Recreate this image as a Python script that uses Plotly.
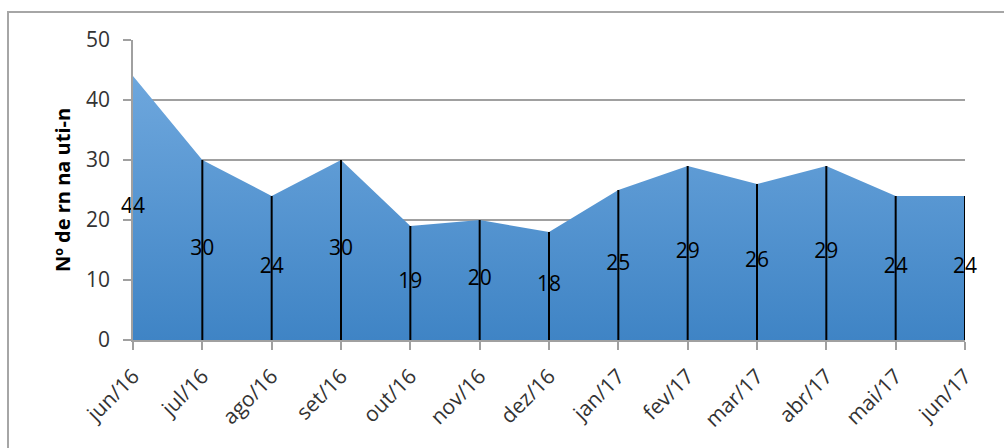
import plotly.graph_objects as go

months = ["jun/16", "jul/16", "ago/16", "set/16", "out/16", "nov/16", "dez/16",
          "jan/17", "fev/17", "mar/17", "abr/17", "mai/17", "jun/17"]
values = [44, 30, 24, 30, 19, 20, 18, 25, 29, 26, 29, 24, 24]
y_title = "Nº de rn na uti-n"
y_ticks = [0, 10, 20, 30, 40, 50]

FONT = "'Open Sans', Lato, sans-serif"

fig = go.Figure()

# area with vertical gradient
fig.add_trace(go.Scatter(
    x=months, y=values, mode="lines", line=dict(width=0, color="#5b9bd5"),
    fill="tozeroy",
    fillgradient=dict(type="vertical",
                      colorscale=[[0, "#3f84c5"], [1, "#6ea7dd"]]),
    hoverinfo="skip", showlegend=False,
))

# drop lines from each point (except the first) down to zero
dx, dy = [], []
for m, v in zip(months[1:], values[1:]):
    dx += [m, m, None]
    dy += [0, v, None]
fig.add_trace(go.Scatter(
    x=dx, y=dy, mode="lines", line=dict(color="black", width=2),
    hoverinfo="skip", showlegend=False,
))

# data labels at mid-height of the area
fig.add_trace(go.Scatter(
    x=months, y=[v / 2 for v in values], mode="text",
    text=[str(v) for v in values], textposition="middle center",
    textfont=dict(family=FONT, size=21, color="#000000"),
    cliponaxis=False, hoverinfo="skip", showlegend=False,
))

fig.update_layout(
    width=1004, height=448,
    margin=dict(l=133, r=39, t=40, b=108),
    paper_bgcolor="white", plot_bgcolor="white",
    font=dict(family=FONT, color="#333333"),
    xaxis=dict(
        type="category", range=[0, len(months) - 1],
        showgrid=False, showline=True, linecolor="#a0a0a0", linewidth=1.5,
        ticks="outside", ticklen=8, tickcolor="#a0a0a0", tickwidth=1.5,
        tickangle=-45, tickfont=dict(family=FONT, size=21, color="#333333"),
        ticklabelstandoff=6,
        zeroline=False,
    ),
    yaxis=dict(
        range=[0, 50], tickvals=y_ticks,
        showgrid=True, gridcolor="#a0a0a0", gridwidth=1.5,
        showline=True, linecolor="#a0a0a0", linewidth=1.5,
        ticks="outside", ticklen=8, tickcolor="#a0a0a0", tickwidth=1.5,
        tickfont=dict(family=FONT, size=21, color="#333333"),
        ticklabelstandoff=9,
        zeroline=False,
        title=dict(text="<b>" + y_title + "</b>",
                   font=dict(family=FONT, size=20, color="#000000"),
                   standoff=10),
    ),
)

# outer chart border (extends past the right and bottom edges)
fig.add_shape(type="rect", xref="paper", yref="paper",
              x0=(8 - 133) / 832, x1=(1010 - 133) / 832,
              y0=(340 - 460) / 300, y1=(340 - 12) / 300,
              line=dict(color="#a6a6a6", width=2), layer="below")

fig.write_html("out.html")
